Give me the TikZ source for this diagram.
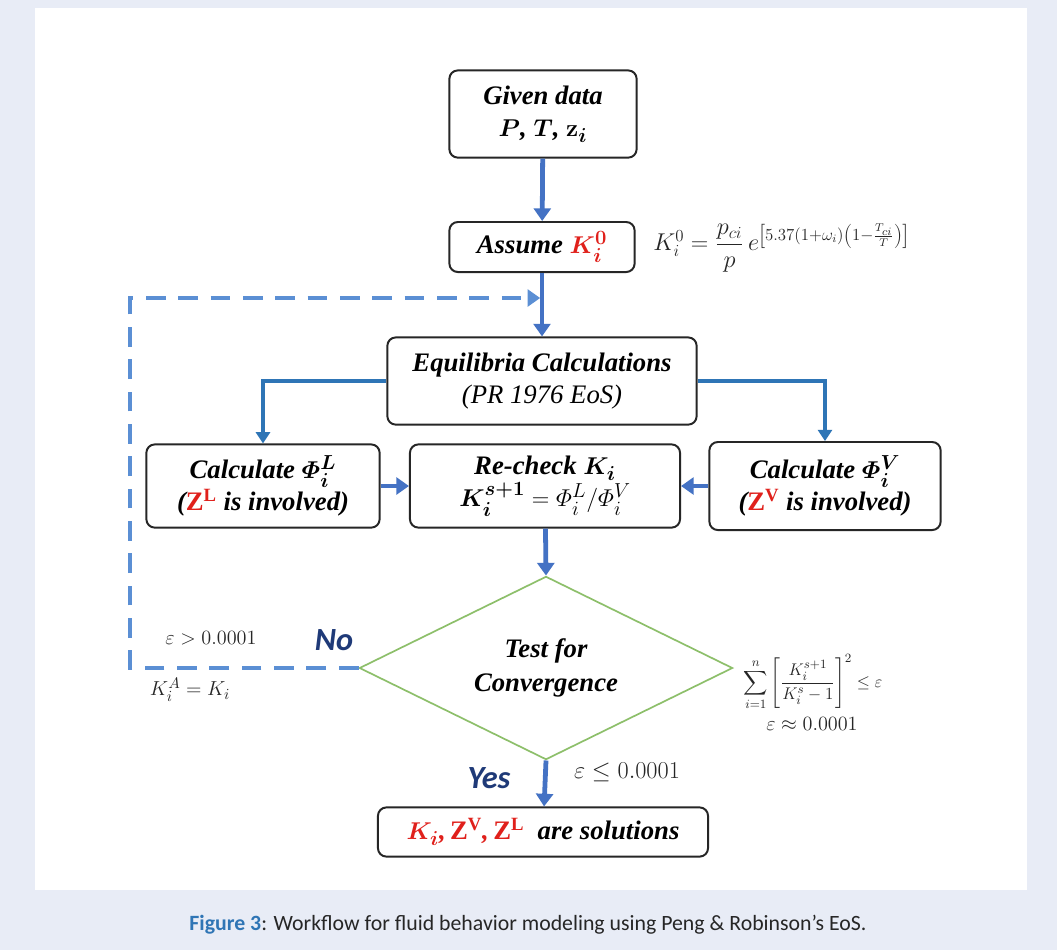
\documentclass[tikz,border=0pt]{standalone}
\usepackage[no-math]{fontspec}
\usepackage{amsmath}
\usepackage{bm}
\setmainfont{Liberation Serif}
\newfontfamily\capfont{Carlito}
\usetikzlibrary{arrows.meta,shapes.geometric,positioning}
\definecolor{pagebg}{HTML}{E8ECF6}
\definecolor{flowblue}{HTML}{4472C4}
\definecolor{branchblue}{HTML}{2E75B6}
\definecolor{loopblue}{HTML}{5B8FD4}
\definecolor{testgreen}{HTML}{8DBF6A}
\definecolor{navy}{HTML}{1F3A78}
\definecolor{capblue}{HTML}{2F75B5}
\definecolor{solred}{HTML}{E0201B}
\newcommand{\zbold}[1]{{\color{solred}\bfseries\upshape Z\textsuperscript{#1}}}
\begin{document}
\begin{tikzpicture}[
        x=0.025cm, y=-0.025cm,
        base/.style={draw=black!85, line width=1.4pt, rounded corners=6pt, align=center, inner sep=2pt, font=\fontsize{19}{23}\selectfont\bfseries\itshape},
        box/.style={base},
        test/.style={diamond, aspect=2.04, draw=testgreen, line width=1.2pt, fill=white, inner sep=0pt, align=center, font=\fontsize{19}{24}\selectfont\bfseries\itshape},
        flow/.style={-{Triangle[width=12pt,length=9pt]}, line width=3.4pt, draw=flowblue},
        branch/.style={-{Triangle[width=10pt,length=8pt]}, line width=2.6pt, draw=branchblue},
        dashflow/.style={-{Triangle[width=12pt,length=9pt]}, line width=2.6pt, draw=loopblue, dash pattern=on 14pt off 9pt},
        lbl/.style={font=\fontsize{15.5}{18}\selectfont, text=black!85, inner sep=0pt},
        answer/.style={font=\fontsize{23}{25}\selectfont\capfont\bfseries\itshape, text=navy, inner sep=0pt}
    ]
        % page and panel
        \useasboundingbox (0,0) rectangle (1057,950);
        \fill[pagebg] (0,0) rectangle (1057,950);
        \fill[white] (35,8) rectangle (1027,890);

        % flow chart boxes
        \node[box, minimum width=4.68cm, minimum height=2.18cm] (given) at (543,114) {Given data\\ $\bm{P}$, $\bm{T}$, $\mathbf{z}_{\bm{i}}$};
        \node[box, minimum width=4.63cm, minimum height=1.25cm] (assume) at (542,247) {Assume {\color{solred}$\bm{K_i^0}$}};
        \node[box, minimum width=7.73cm, minimum height=2.18cm] (equil) at (542,381) {Equilibria Calculations\\ {\mdseries(PR 1976 EoS)}};
        \node[box, minimum width=5.83cm, minimum height=2.08cm] (calcL) at (263,486) {Calculate $\bm{\varPhi_i^L}$\\ (\zbold{L} is involved)};
        \node[box, minimum width=6.75cm, minimum height=2.08cm] (recheck) at (545,486) {Re-check $\bm{K_i}$\\ $\bm{K_i^{s+1}} = \varPhi_i^L/\varPhi_i^V$};
        \node[box, minimum width=5.78cm, minimum height=2.2cm] (calcV) at (825,486) {Calculate $\bm{\varPhi_i^V}$\\ (\zbold{V} is involved)};
        \node[test, minimum width=9.33cm, minimum height=4.58cm] (conv) at (546,668) {Test for\\ Convergence};
        \node[box, minimum width=8.25cm, minimum height=1.23cm] (result) at (543,832) {{\color{solred}$\bm{K_i}$,\,}\zbold{V}{\color{solred},\,}\zbold{L}\enspace are solutions};

        % side formulas and labels
        \node[lbl, font=\fontsize{17}{20}\selectfont, anchor=west] (kinit) at (653,248) {$K_i^0=\dfrac{p_{ci}}{p}\,e^{\left[5.37(1+\omega_i)\left(1-\frac{T_{ci}}{T}\right)\right]}$};
        \node[lbl] (epsgt) at (211,638) {$\varepsilon > 0.0001$};
        \node[answer] (no) at (334,640) {No};
        \node[lbl] (kassign) at (190,690) {$K_i^A = K_i$};
        \node[lbl, font=\fontsize{13}{15}\selectfont] (sumtest) at (813,682) {$\displaystyle\sum_{i=1}^{n}\left[\frac{K_i^{s+1}}{K_i^{s}-1}\right]^2 \le \varepsilon$};
        \node[lbl, font=\fontsize{14}{16}\selectfont] (epsapprox) at (812,724) {$\varepsilon \approx 0.0001$};
        \node[answer] (yes) at (489,778) {Yes};
        \node[lbl, font=\fontsize{17}{19}\selectfont] (epsle) at (627,772) {$\varepsilon \le 0.0001$};

        % caption
        \node[font=\fontsize{15.5}{18}\selectfont\capfont, text=black!85] (caption) at (528,925) {{\color{capblue}\bfseries Figure 3}: Workflow for fluid behavior modeling using Peng \& Robinson’s EoS.};

        % connectors
        \coordinate (join) at (543,298);
        \coordinate (loopBL) at (130,668);
        \coordinate (loopTL) at (130,298);
        \draw[flow] (given) -- (assume);
        \draw[flow] (assume) -- (equil);
        \draw[dashflow] (conv.west) -- (loopBL) -- (loopTL) -- ([xshift=-2pt]join);
        \draw[branch] (equil.west) -| (calcL.north);
        \draw[branch] (equil.east) -| (calcV.north);
        \draw[flow] (calcL) -- (recheck);
        \draw[flow] (calcV) -- (recheck);
        \draw[flow] (recheck) -- (conv.north);
        \draw[flow] (conv.south) -- (result);
    \end{tikzpicture}
\end{document}
